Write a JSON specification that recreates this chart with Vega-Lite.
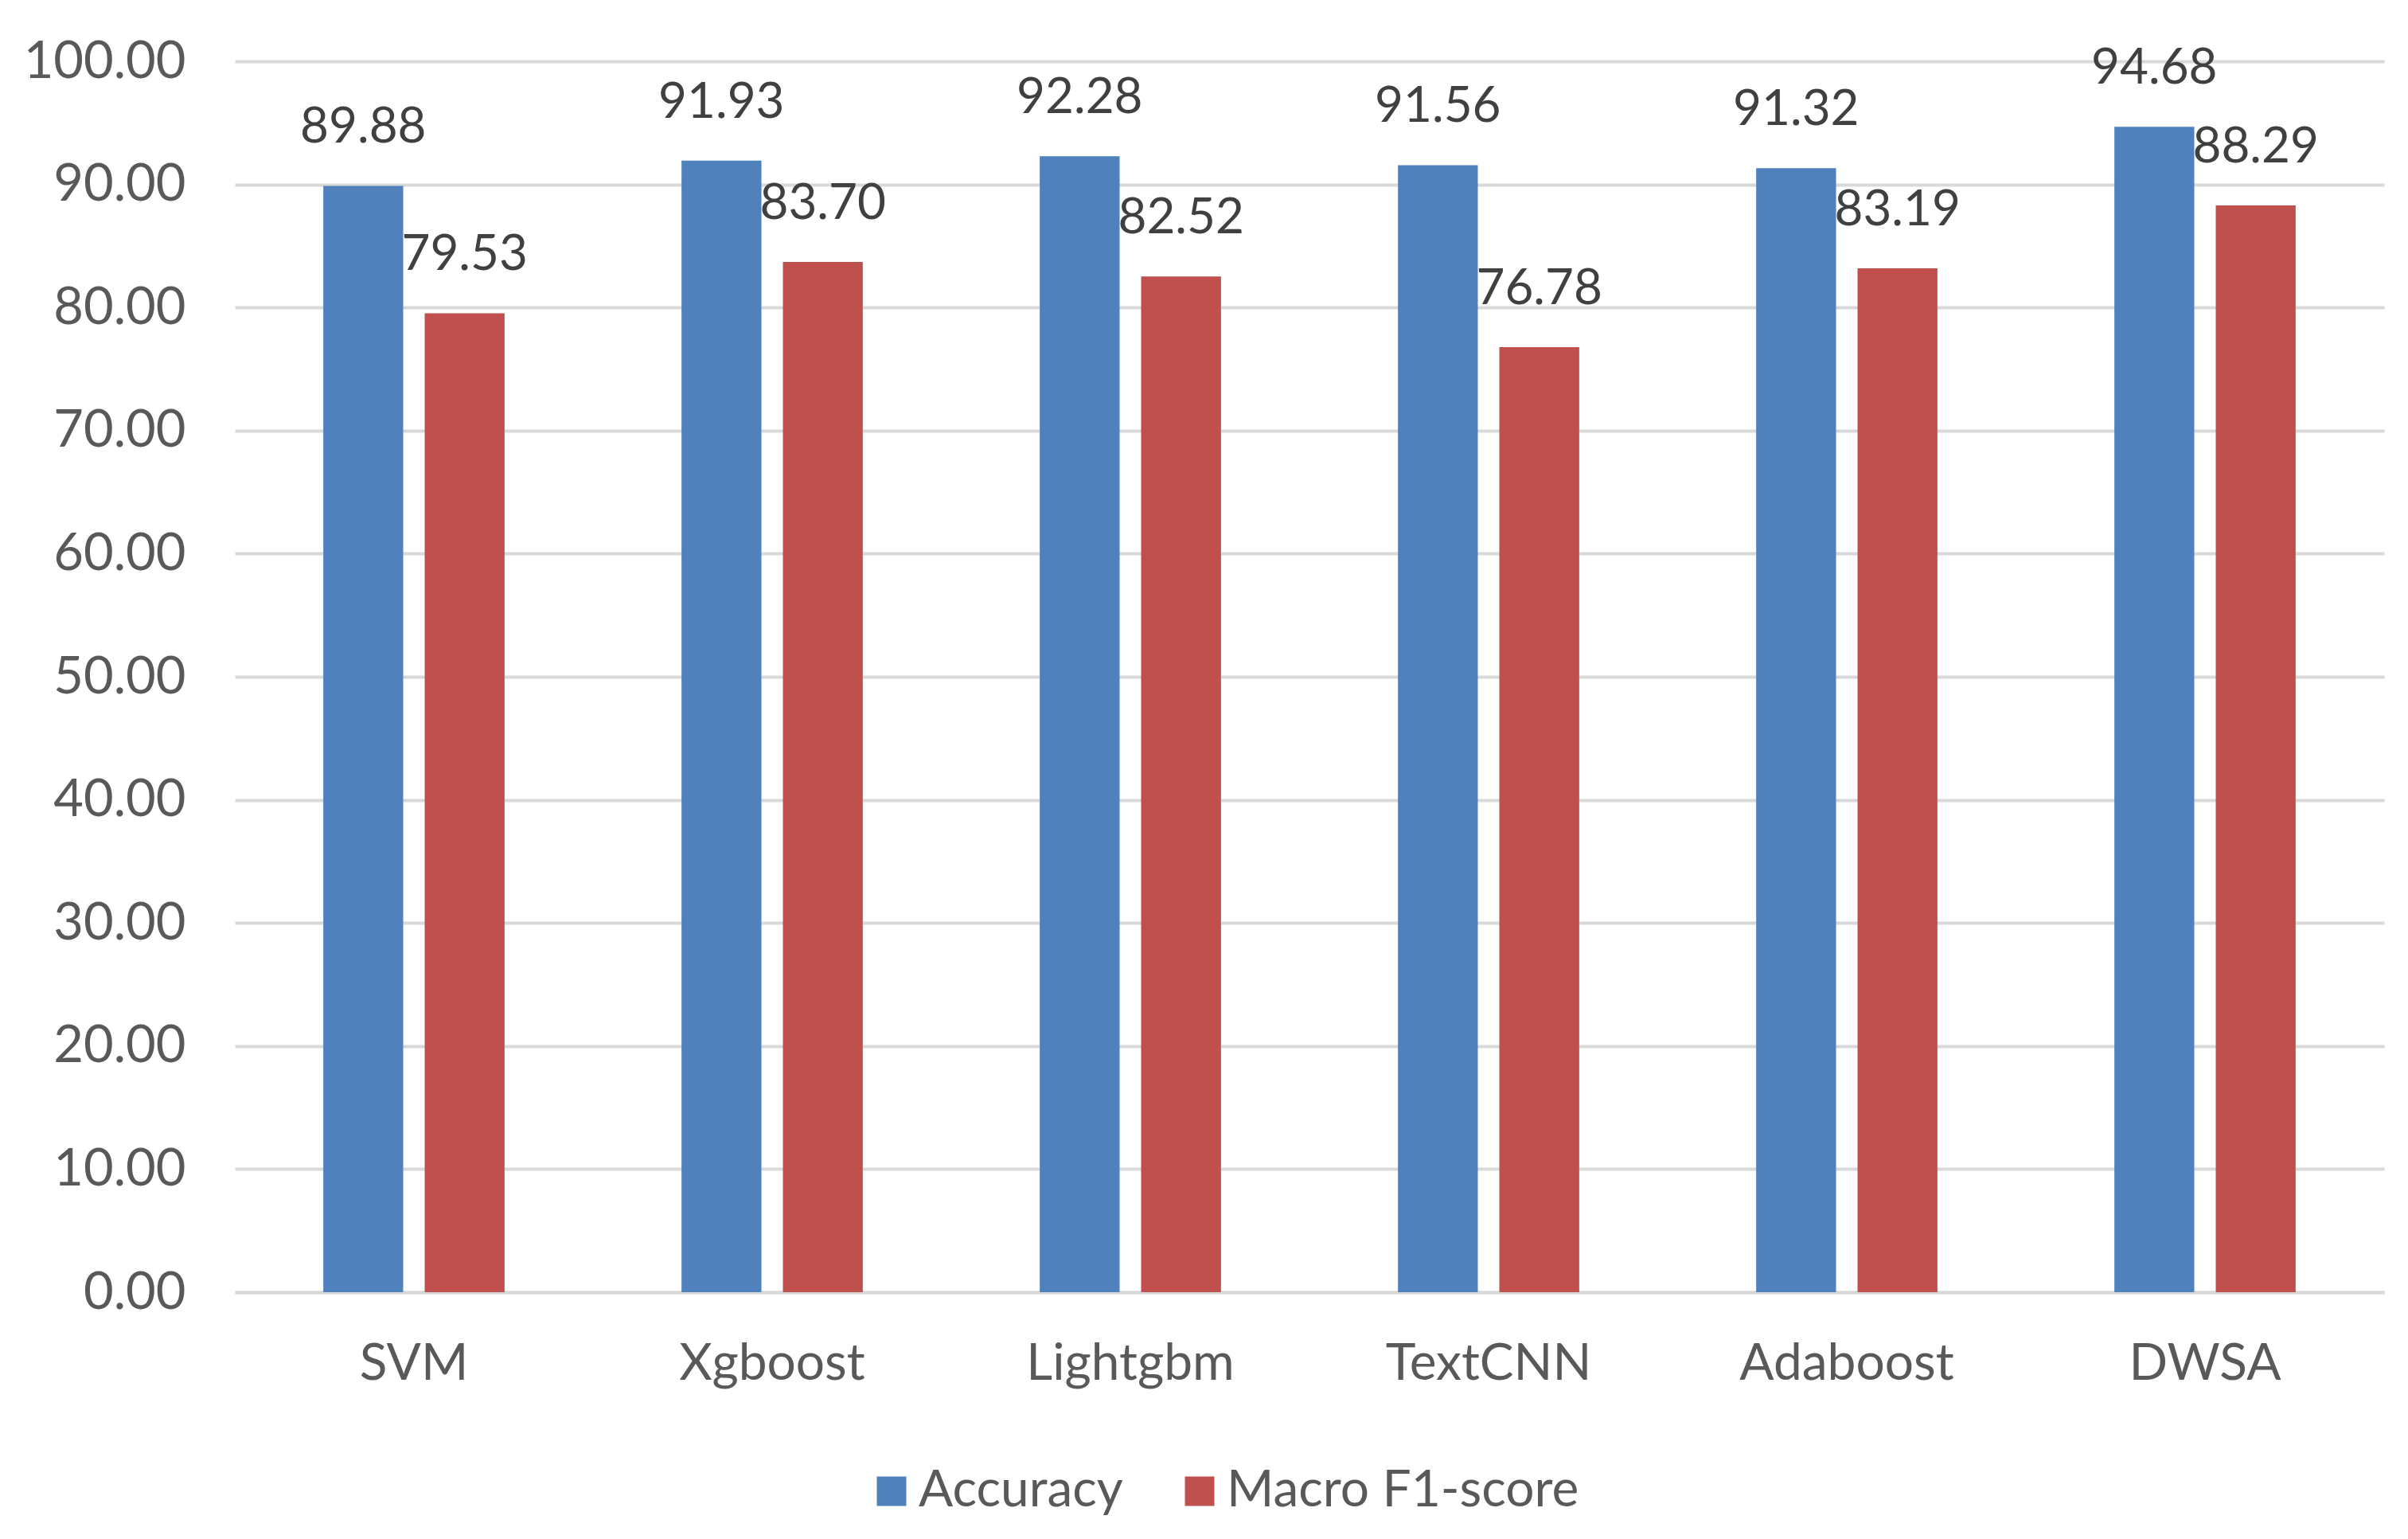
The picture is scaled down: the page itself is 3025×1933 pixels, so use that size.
{
  "$schema": "https://vega.github.io/schema/vega-lite/v6.json",
  "width": 2700,
  "height": 1546,
  "autosize": {"type": "none"},
  "padding": {"left": 295, "top": 77, "right": 30, "bottom": 310},
  "background": "white",
  "data": {
    "values": [
      {"model": "SVM", "metric": "Accuracy", "value": 89.88},
      {"model": "SVM", "metric": "Macro F1-score", "value": 79.53},
      {"model": "Xgboost", "metric": "Accuracy", "value": 91.93},
      {"model": "Xgboost", "metric": "Macro F1-score", "value": 83.70},
      {"model": "Lightgbm", "metric": "Accuracy", "value": 92.28},
      {"model": "Lightgbm", "metric": "Macro F1-score", "value": 82.52},
      {"model": "TextCNN", "metric": "Accuracy", "value": 91.56},
      {"model": "TextCNN", "metric": "Macro F1-score", "value": 76.78},
      {"model": "Adaboost", "metric": "Accuracy", "value": 91.32},
      {"model": "Adaboost", "metric": "Macro F1-score", "value": 83.19},
      {"model": "DWSA", "metric": "Accuracy", "value": 94.68},
      {"model": "DWSA", "metric": "Macro F1-score", "value": 88.29}
    ]
  },
  "encoding": {
    "x": {
      "field": "model",
      "type": "nominal",
      "sort": ["SVM", "Xgboost", "Lightgbm", "TextCNN", "Adaboost", "DWSA"],
      "scale": {"paddingInner": 0.494, "paddingOuter": 0.247},
      "axis": {
        "title": null,
        "labelAngle": 0,
        "labelFont": "Lato",
        "labelFontSize": 64,
        "labelColor": "#595959",
        "labelPadding": 58,
        "labelLimit": 0,
        "ticks": false,
        "grid": false,
        "domain": true,
        "domainColor": "#D9D9D9",
        "domainWidth": 4
      }
    },
    "xOffset": {
      "field": "metric",
      "type": "nominal",
      "sort": ["Accuracy", "Macro F1-score"],
      "scale": {"paddingInner": 0.212, "paddingOuter": 0}
    },
    "y": {
      "field": "value",
      "type": "quantitative",
      "scale": {"domain": [0, 100], "nice": false},
      "axis": {
        "title": null,
        "values": [0, 10, 20, 30, 40, 50, 60, 70, 80, 90, 100],
        "format": ".2f",
        "labelFont": "Lato",
        "labelFontSize": 65,
        "labelColor": "#595959",
        "labelPadding": 62,
        "labelLimit": 0,
        "ticks": false,
        "domain": false,
        "grid": true,
        "gridColor": "#D9D9D9",
        "gridWidth": 4
      }
    }
  },
  "layer": [
    {
      "mark": {"type": "bar"},
      "encoding": {
        "color": {
          "field": "metric",
          "type": "nominal",
          "sort": ["Accuracy", "Macro F1-score"],
          "scale": {"domain": ["Accuracy", "Macro F1-score"], "range": ["#4F81BD", "#C0504D"]},
          "legend": {
            "title": null,
            "orient": "none",
            "legendX": 793,
            "legendY": 1764,
            "direction": "horizontal",
            "symbolType": "square",
            "symbolSize": 1369,
            "symbolStrokeWidth": 0,
            "labelFont": "Lato",
            "labelFontSize": 64,
            "labelColor": "#595959",
            "labelOffset": 2,
            "labelLimit": 0,
            "columnPadding": 64
          }
        }
      }
    },
    {
      "mark": {
        "type": "text",
        "dy": -73,
        "baseline": "middle",
        "align": "center",
        "font": "Lato",
        "fontSize": 62,
        "color": "#404040"
      },
      "encoding": {
        "text": {"field": "value", "type": "quantitative", "format": ".2f"}
      }
    }
  ],
  "config": {"view": {"stroke": null}}
}
